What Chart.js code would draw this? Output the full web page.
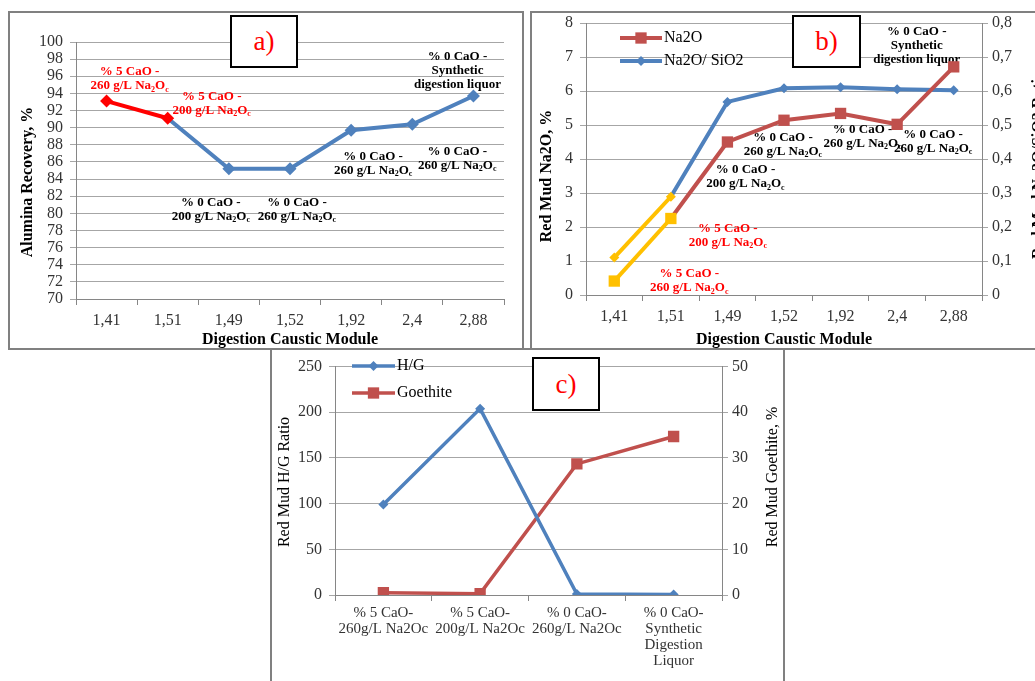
<!DOCTYPE html>
<html>
<head>
<meta charset="utf-8" />
<title>Red mud digestion results</title>
<script src="https://cdn.jsdelivr.net/npm/chart.js@4/dist/chart.umd.min.js"></script>
<style>
    html, body { margin: 0; padding: 0; background: #fff; overflow: hidden; }
    body { width: 1035px; height: 681px; position: relative; }
    canvas { position: absolute; }
    .panel { position: absolute; border: 2px solid #808080; box-sizing: border-box; }
    .tag {
        position: absolute; box-sizing: border-box; border: 2px solid #000; background: #fff;
        color: #f00; font: 27px "Liberation Serif", serif; text-align: center;
    }
</style>
</head>
<body>
<canvas id="chartA" width="525" height="350" style="left:0;top:0"></canvas>
<canvas id="chartB" width="510" height="350" style="left:525px;top:0"></canvas>
<canvas id="chartC" width="515" height="331" style="left:270px;top:350px"></canvas>

<div class="panel" style="left:8px;top:11px;width:516px;height:339px"></div>
<div class="panel" style="left:530px;top:11px;width:520px;height:339px"></div>
<div class="panel" style="left:270px;top:348px;width:515px;height:345px"></div>

<div class="tag" style="left:230px;top:15px;width:68px;height:53px;line-height:49px">a)</div>
<div class="tag" style="left:792px;top:15px;width:69px;height:53px;line-height:49px">b)</div>
<div class="tag" style="left:532px;top:357px;width:68px;height:54px;line-height:50px">c)</div>

<script>
    const serif = '"Liberation Serif", "Times New Roman", serif';

    // digestion caustic module of each run
    const moduleLabels = ['1,41', '1,51', '1,49', '1,52', '1,92', '2,4', '2,88'];
    const aluminaRecovery = [93.1, 91.1, 85.2, 85.2, 89.7, 90.4, 93.7];
    const mudNa2O = [0.41, 2.25, 4.5, 5.14, 5.34, 5.02, 6.71];
    const mudNa2OSiO2 = [0.11, 0.289, 0.568, 0.608, 0.611, 0.605, 0.602];

    // H/G and goethite per digestion condition
    const caseLabels = [
        ['% 5 CaO-', '260g/L Na2Oc'],
        ['% 5 CaO-', '200g/L Na2Oc'],
        ['% 0 CaO-', '260g/L Na2Oc'],
        ['% 0 CaO-', 'Synthetic', 'Digestion', 'Liquor']
    ];
    const hgRatio = [99, 204, 1, 0.5];
    const goethite = [0.5, 0.3, 28.7, 34.7];

    // condition written next to each point ({..} = subscript)
    const conditionNotes = [
        ['% 5 CaO -', '260 g/L Na{2}O{c}'],
        ['% 5 CaO -', '200 g/L Na{2}O{c}'],
        ['% 0 CaO -', '200 g/L Na{2}O{c}'],
        ['% 0 CaO -', '260 g/L Na{2}O{c}'],
        ['% 0 CaO -', '260 g/L Na{2}O{c}'],
        ['% 0 CaO -', '260 g/L Na{2}O{c}'],
        ['% 0 CaO -', 'Synthetic', 'digestion liquor']
    ];

    const blue = '#4F81BD', red = '#C0504D', brightRed = '#FF0000', amber = '#FFC000';
    const gridGray = '#a6a6a6', axisGray = '#868686', tickColor = '#333';

    Chart.defaults.font.family = serif;
    Chart.defaults.color = tickColor;

    function drawRich(ctx, text, cx, cy, size, color)
    {
        let parts = [];
        text.split(/(\{[^}]*\})/).forEach(p => {
            if (!p) return;
            if (p[0] === '{') parts.push({ t: p.slice(1, -1), sub: true });
            else parts.push({ t: p, sub: false });
        });
        let big = 'bold ' + size + 'px ' + serif;
        let small = 'bold ' + Math.round(size * 0.65) + 'px ' + serif;
        let total = 0;
        parts.forEach(p => {
            ctx.font = p.sub ? small : big;
            p.w = ctx.measureText(p.t).width;
            total += p.w;
        });
        let x = cx - total / 2;
        ctx.fillStyle = color;
        ctx.textAlign = 'left';
        ctx.textBaseline = 'middle';
        parts.forEach(p => {
            ctx.font = p.sub ? small : big;
            ctx.fillText(p.t, x, cy + (p.sub ? size * 0.28 : 0));
            x += p.w;
        });
    }

    function marker(ctx, style, r, x, y)
    {
        ctx.beginPath();
        if (style === 'rect') {
            let s = r * Math.SQRT1_2;
            ctx.rect(x - s, y - s, 2 * s, 2 * s);
        } else {
            ctx.moveTo(x, y - r);
            ctx.lineTo(x + r, y);
            ctx.lineTo(x, y + r);
            ctx.lineTo(x - r, y);
            ctx.closePath();
        }
        ctx.fill();
    }

    // point notes, rotated axis titles and the in-plot legend
    const extras = {
        id: 'extras',
        beforeDatasetsDraw(chart, args, opts) {
            let ctx = chart.ctx;
            ctx.save();
            (opts.notes || []).forEach(n => {
                let pt = chart.getDatasetMeta(n.ds).data[n.i];
                n.lines.forEach((line, k) => {
                    drawRich(ctx, line, pt.x + n.dx, pt.y + n.dy + k * opts.gap, opts.size, n.color);
                });
            });
            ctx.restore();
        },
        afterDraw(chart, args, opts) {
            let ctx = chart.ctx;
            ctx.save();
            (opts.titles || []).forEach(t => {
                ctx.save();
                ctx.translate(t.x, t.y);
                ctx.rotate(-Math.PI / 2);
                ctx.font = (t.bold ? 'bold ' : '') + '16px ' + serif;
                ctx.fillStyle = '#000';
                ctx.textAlign = 'center';
                ctx.textBaseline = 'middle';
                ctx.fillText(t.text, 0, 0);
                ctx.restore();
            });
            let lg = opts.legend;
            if (lg) {
                chart.data.datasets.forEach((ds, k) => {
                    let y = lg.y[k];
                    ctx.strokeStyle = ds.borderColor;
                    ctx.lineWidth = ds.borderWidth;
                    ctx.beginPath();
                    ctx.moveTo(lg.x, y);
                    ctx.lineTo(lg.x + lg.len, y);
                    ctx.stroke();
                    ctx.fillStyle = ds.borderColor;
                    marker(ctx, ds.pointStyle, ds.pointRadius, lg.x + lg.len / 2, y);
                    ctx.font = '16px ' + serif;
                    ctx.fillStyle = '#000';
                    ctx.textAlign = 'left';
                    ctx.textBaseline = 'middle';
                    ctx.fillText(ds.label, lg.x + lg.len + 2, y);
                });
            }
            ctx.restore();
        }
    };

    function xAxis(height, title)
    {
        return {
            type: 'category',
            offset: true,
            grid: { offset: true, drawOnChartArea: false, color: axisGray, tickLength: 6 },
            border: { color: axisGray },
            ticks: { font: { size: 16 }, padding: 6, maxRotation: 0, autoSkip: false },
            title: {
                display: !!title, text: title, color: '#000',
                font: { size: 16, weight: 'bold' }, padding: { top: 0, bottom: 1 }
            },
            afterFit: s => { s.height = height; }
        };
    }

    function yAxis(min, max, step, width, pos, decimals)
    {
        return {
            position: pos,
            min: min, max: max,
            ticks: {
                stepSize: step, autoSkip: false, font: { size: 16 }, padding: pos === 'left' ? 7 : 4,
                callback: v => decimals ? (v === 0 ? '0' : v.toFixed(decimals).replace('.', ',')) : String(v)
            },
            grid: { color: gridGray, tickLength: 6, drawOnChartArea: pos === 'left' },
            border: { color: axisGray },
            afterFit: s => { s.width = width; }
        };
    }

    function notesFor(offsets, ds)
    {
        return conditionNotes.map((lines, i) => ({
            ds: ds, i: i, dx: offsets[i][0], dy: offsets[i][1],
            color: i < 2 ? brightRed : '#000', lines: lines
        }));
    }

    // a) alumina recovery
    new Chart(document.getElementById('chartA'), {
        type: 'line',
        data: {
            labels: moduleLabels,
            datasets: [{
                label: 'Alumina Recovery',
                data: aluminaRecovery,
                borderColor: blue,
                borderWidth: 4,
                segment: { borderColor: c => c.p0DataIndex === 0 ? brightRed : blue },
                pointStyle: 'rectRot',
                pointRadius: 6.5,
                pointBorderWidth: 0,
                pointBackgroundColor: aluminaRecovery.map((v, i) => i < 2 ? brightRed : blue),
                tension: 0
            }]
        },
        options: {
            responsive: false,
            animation: false,
            layout: { padding: { left: 0, top: 42, right: 21, bottom: 0 } },
            scales: {
                x: xAxis(51, 'Digestion Caustic Module'),
                y: yAxis(70, 100, 2, 76, 'left', 0)
            },
            plugins: {
                legend: { display: false },
                tooltip: { enabled: false },
                extras: {
                    size: 13, gap: 14,
                    notes: notesFor([[23, -29], [44, -22], [-18, 34], [7, 34], [22, 26], [45, 27], [-16, -39]], 0),
                    titles: [{ text: 'Alumina Recovery, %', x: 28, y: 182, bold: true }]
                }
            }
        },
        plugins: [extras]
    });

    // b) red mud Na2O and Na2O/SiO2
    new Chart(document.getElementById('chartB'), {
        type: 'line',
        data: {
            labels: moduleLabels,
            datasets: [{
                label: 'Na2O',
                data: mudNa2O,
                yAxisID: 'y',
                borderColor: red,
                borderWidth: 4,
                segment: { borderColor: c => c.p0DataIndex === 0 ? amber : red },
                pointStyle: 'rect',
                pointRadius: 8,
                pointBorderWidth: 0,
                pointBackgroundColor: mudNa2O.map((v, i) => i < 2 ? amber : red),
                tension: 0
            }, {
                label: 'Na2O/ SiO2',
                data: mudNa2OSiO2,
                yAxisID: 'y1',
                borderColor: blue,
                borderWidth: 4,
                segment: { borderColor: c => c.p0DataIndex === 0 ? amber : blue },
                pointStyle: 'rectRot',
                pointRadius: 5,
                pointBorderWidth: 0,
                pointBackgroundColor: mudNa2OSiO2.map((v, i) => i < 2 ? amber : blue),
                tension: 0
            }]
        },
        options: {
            responsive: false,
            animation: false,
            layout: { padding: { left: 0, top: 23, right: 0, bottom: 0 } },
            scales: {
                x: xAxis(55, 'Digestion Caustic Module'),
                y: yAxis(0, 8, 1, 61, 'left', 0),
                y1: yAxis(0, 0.8, 0.1, 53, 'right', 1)
            },
            plugins: {
                legend: { display: false },
                tooltip: { enabled: false },
                extras: {
                    size: 13, gap: 14,
                    notes: notesFor([[75, -7], [57, 10], [18, 28], [-1, 17], [22, 16], [36, 10], [-37, -35]], 0),
                    titles: [
                        { text: 'Red Mud Na2O, %', x: 22, y: 176, bold: true },
                        { text: 'Red Mud Na2O/SiO2 Ratio', x: 514, y: 165, bold: true }
                    ],
                    legend: { x: 95, len: 42, y: [38, 61] }
                }
            }
        },
        plugins: [extras]
    });

    // c) H/G ratio and goethite
    new Chart(document.getElementById('chartC'), {
        type: 'line',
        data: {
            labels: caseLabels,
            datasets: [{
                label: 'H/G',
                data: hgRatio,
                yAxisID: 'y',
                borderColor: blue,
                borderWidth: 3.5,
                pointStyle: 'rectRot',
                pointRadius: 5,
                pointBorderWidth: 0,
                pointBackgroundColor: blue,
                tension: 0
            }, {
                label: 'Goethite',
                data: goethite,
                yAxisID: 'y1',
                borderColor: red,
                borderWidth: 3.5,
                pointStyle: 'rect',
                pointRadius: 8,
                pointBorderWidth: 0,
                pointBackgroundColor: red,
                tension: 0
            }]
        },
        options: {
            responsive: false,
            animation: false,
            layout: { padding: { left: 0, top: 10, right: 0, bottom: 0 } },
            scales: {
                x: Object.assign(xAxis(86, ''), {
                    ticks: { font: { size: 15, lineHeight: 1.07 }, padding: 4, maxRotation: 0, autoSkip: false }
                }),
                y: yAxis(0, 250, 50, 65, 'left', 0),
                y1: yAxis(0, 50, 10, 63, 'right', 0)
            },
            plugins: {
                legend: { display: false },
                tooltip: { enabled: false },
                extras: {
                    titles: [
                        { text: 'Red Mud H/G Ratio', x: 15, y: 132, bold: false },
                        { text: 'Red Mud Goethite, %', x: 503, y: 127, bold: false }
                    ],
                    legend: { x: 82, len: 43, y: [16, 43] }
                }
            }
        },
        plugins: [extras]
    });
</script>
</body>
</html>
